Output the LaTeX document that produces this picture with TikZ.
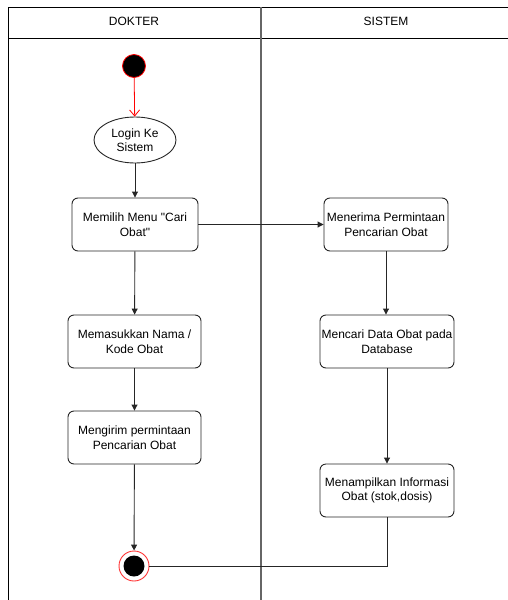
\documentclass[tikz,border=0pt]{standalone}
\usepackage{fontspec}
\setmainfont{Liberation Sans}
\usetikzlibrary{arrows.meta,shapes.geometric}
\begin{document}
\begin{tikzpicture}[x=1pt,y=-1pt,
  font=\fontsize{12}{14.5}\selectfont,
  act/.style={draw=black!85, rounded corners=6pt, line width=0.9pt,
    minimum width=#1, minimum height=53pt, align=center, inner sep=1pt},
  act/.default=128pt,
  flow/.style={draw=black!85, line width=0.9pt, -{Triangle[length=6pt,width=6pt]}},
  lane/.style={line width=1pt}
]
\useasboundingbox (0,0) rectangle (508,600);
% swimlane frame
\draw[lane] (508,7) -- (8,7) -- (8,600);
\draw[lane] (8,38) -- (508,38);
\draw[line width=1.3pt, black!60] (261,7) -- (261,600);
\node (hd) at (134,21) {DOKTER};
\node (hs) at (386,21) {SISTEM};

% start and end
\node (start) [circle, fill=black, draw=red, line width=0.8pt, minimum size=23pt, inner sep=0pt] at (134,66) {};
\node (fin) [circle, draw=red!80, line width=0.9pt, minimum size=30pt, inner sep=0pt] at (134,566) {};
\node (finc) [circle, fill=black, minimum size=21pt, inner sep=0pt] at (134,566) {};

% activities
\node (login) [ellipse, draw=black!85, line width=0.9pt, minimum width=82pt, minimum height=46pt, inner sep=0pt, align=center] at (135,140) {Login Ke\\Sistem};
\node (pilih) [act=126pt] at (135,224.5) {Memilih Menu \textquotedbl Cari\\Obat\textquotedbl};
\node (terima) [act=124pt] at (386,224.5) {Menerima Permintaan\\Pencarian Obat};
\node (masuk) [act=133pt] at (134.5,341.5) {Memasukkan Nama /\\Kode Obat};
\node (cari) [act=134pt] at (387,341.5) {Mencari Data Obat pada\\Database};
\node (kirim) [act=133pt] at (134.5,437.5) {Mengirim permintaan\\Pencarian Obat};
\node (tampil) [act=134pt] at (387,490.5) {Menampilkan Informasi\\Obat (stok,dosis)};

% connectors
\draw[red, line width=0.8pt, -{Straight Barb[length=6pt,width=10pt]}] (start) -- (login);
\draw[flow] (login) -- (pilih);
\draw[flow] (pilih) -- (terima);
\draw[flow] (pilih) -- (masuk);
\draw[flow] (masuk) -- (kirim);
\draw[flow] (kirim) -- (fin);
\draw[flow] (terima) -- (terima |- cari.north);
\draw[flow] (cari) -- (tampil);
\draw[draw=black!85, line width=0.9pt] (tampil.south) |- (fin.east);
\end{tikzpicture}
\end{document}
